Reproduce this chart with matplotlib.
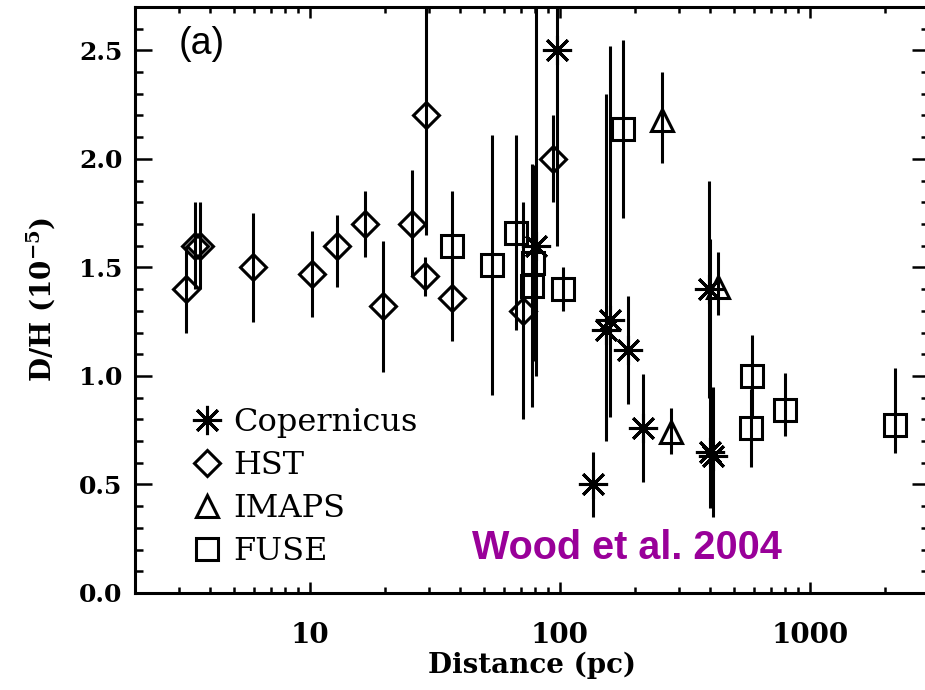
import numpy as np
import matplotlib.pyplot as plt
from matplotlib.lines import Line2D
from matplotlib.ticker import MultipleLocator, LogLocator, NullFormatter, FixedLocator, FixedFormatter

plt.rcParams['mathtext.fontset'] = 'dejavuserif'

# D/H measurements: distance (pc), value (1e-5), lower / upper error
cop_dist = [80.6, 97.7, 136, 153.7, 158.5, 187.7, 215.4, 395, 400, 410]
cop_dh = [1.60, 2.50, 0.50, 1.21, 1.26, 1.12, 0.76, 1.40, 0.65, 0.63]
cop_lo = [0.60, 0.90, 0.15, 0.51, 0.45, 0.25, 0.25, 0.50, 0.26, 0.28]
cop_hi = [1.20, 0.90, 0.15, 1.09, 1.26, 0.25, 0.25, 0.50, 0.98, 0.32]

hst_dist = [3.2, 3.47, 3.63, 5.93, 10.25, 12.9, 16.6, 19.6, 25.6, 29.1, 28.9, 37.0, 71.2, 94.0]
hst_dh = [1.40, 1.60, 1.60, 1.50, 1.47, 1.60, 1.70, 1.32, 1.70, 2.20, 1.46, 1.36, 1.30, 2.00]
hst_lo = [0.20, 0.20, 0.20, 0.25, 0.20, 0.19, 0.15, 0.30, 0.24, 0.55, 0.09, 0.20, 0.50, 0.20]
hst_hi = [0.20, 0.20, 0.20, 0.25, 0.20, 0.14, 0.15, 0.30, 0.25, 0.55, 0.09, 0.20, 0.50, 0.20]

imaps_dist = [257.6, 279.7, 430]
imaps_dh = [2.18, 0.74, 1.41]
imaps_lo = [0.20, 0.10, 0.13]
imaps_hi = [0.22, 0.11, 0.16]

fuse_dist = [37.0, 53.4, 66.7, 78.5, 77.5, 103, 179, 590, 581, 794, 2194]
fuse_dh = [1.60, 1.51, 1.66, 1.52, 1.415, 1.40, 2.14, 1.00, 0.76, 0.845, 0.776]
fuse_lo = [0.25, 0.60, 0.45, 0.45, 0.56, 0.10, 0.41, 0.19, 0.18, 0.12, 0.13]
fuse_hi = [0.25, 0.60, 0.45, 0.45, 0.56, 0.10, 0.41, 0.19, 0.18, 0.17, 0.26]

ytick_vals = [0.0, 0.5, 1.0, 1.5, 2.0, 2.5]
xtick_vals = [10, 100, 1000]

fig = plt.figure(figsize=(9.25, 6.9), dpi=100)
ax = fig.add_axes([0.1459, 0.1406, 0.8584, 0.8493])

lw = 2.2
asterisk = (8, 2, 0)
sets = [
    (cop_dist, cop_dh, cop_lo, cop_hi, asterisk, 21, 'Copernicus'),
    (hst_dist, hst_dh, hst_lo, hst_hi, 'D', 13, 'HST'),
    (imaps_dist, imaps_dh, imaps_lo, imaps_hi, '^', 16, 'IMAPS'),
    (fuse_dist, fuse_dh, fuse_lo, fuse_hi, 's', 16, 'FUSE'),
]
handles = []
for dist, dh, lo, hi, mk, ms, name in sets:
    ax.errorbar(dist, dh, yerr=[lo, hi], fmt='none', ecolor='black',
                elinewidth=lw, capsize=0)
    ax.plot(dist, dh, ls='none', marker=mk, ms=ms, mfc='none', mec='black', mew=lw)
    handles.append(Line2D([], [], ls='none', marker=mk, ms=ms, mfc='none',
                          mec='black', mew=lw, label=name))

ax.set_xscale('log')
ax.set_xlim(2, 3000)
ax.set_ylim(0, 2.7)

# axis styling
for sp in ax.spines.values():
    sp.set_linewidth(2.2)
ax.xaxis.set_major_locator(FixedLocator(xtick_vals))
ax.xaxis.set_major_formatter(FixedFormatter([str(v) for v in xtick_vals]))
ax.xaxis.set_minor_locator(LogLocator(base=10, subs=np.arange(2, 10)))
ax.xaxis.set_minor_formatter(NullFormatter())
ax.yaxis.set_major_locator(FixedLocator(ytick_vals))
ax.yaxis.set_major_formatter(FixedFormatter(['%.1f' % v for v in ytick_vals]))
ax.yaxis.set_minor_locator(MultipleLocator(0.1))

ax.tick_params(axis='both', which='both', direction='in', top=True, right=True,
               width=1.8, colors='black')
ax.tick_params(axis='x', which='major', length=8, pad=21)
ax.tick_params(axis='x', which='minor', length=4)
ax.tick_params(axis='y', which='major', length=12, pad=9)
ax.tick_params(axis='y', which='minor', length=6)

for lab in ax.get_xticklabels():
    lab.set_fontfamily('DejaVu Serif')
    lab.set_fontweight('bold')
    lab.set_fontsize(20)
for lab in ax.get_yticklabels():
    lab.set_fontfamily('DejaVu Serif')
    lab.set_fontweight('bold')
    lab.set_fontsize(18)

ax.set_xlabel('Distance (pc)', fontfamily='DejaVu Serif', fontweight='bold',
              fontsize=20, labelpad=2)
ax.set_ylabel(r'D/H (10$^{\mathbf{-5}}$)', fontfamily='DejaVu Serif',
              fontweight='bold', fontsize=20, labelpad=16)

ax.text(0.055, 0.937, '(a)', transform=ax.transAxes, fontsize=27,
        fontfamily='Liberation Sans', va='center', ha='left')
ax.text(0.62, 0.077, 'Wood et al. 2004', transform=ax.transAxes, fontsize=28.5,
        fontfamily='Liberation Sans', fontstretch='condensed', fontweight='bold',
        color='#990099', va='center', ha='center')

leg = ax.legend(handles=handles, loc='lower left', bbox_to_anchor=(0.054, 0.023),
                frameon=False, handlelength=1.0, handletextpad=0.35,
                labelspacing=0.37, borderaxespad=0,
                prop={'family': 'DejaVu Serif', 'size': 23})

fig.savefig('out.png', dpi=100)
